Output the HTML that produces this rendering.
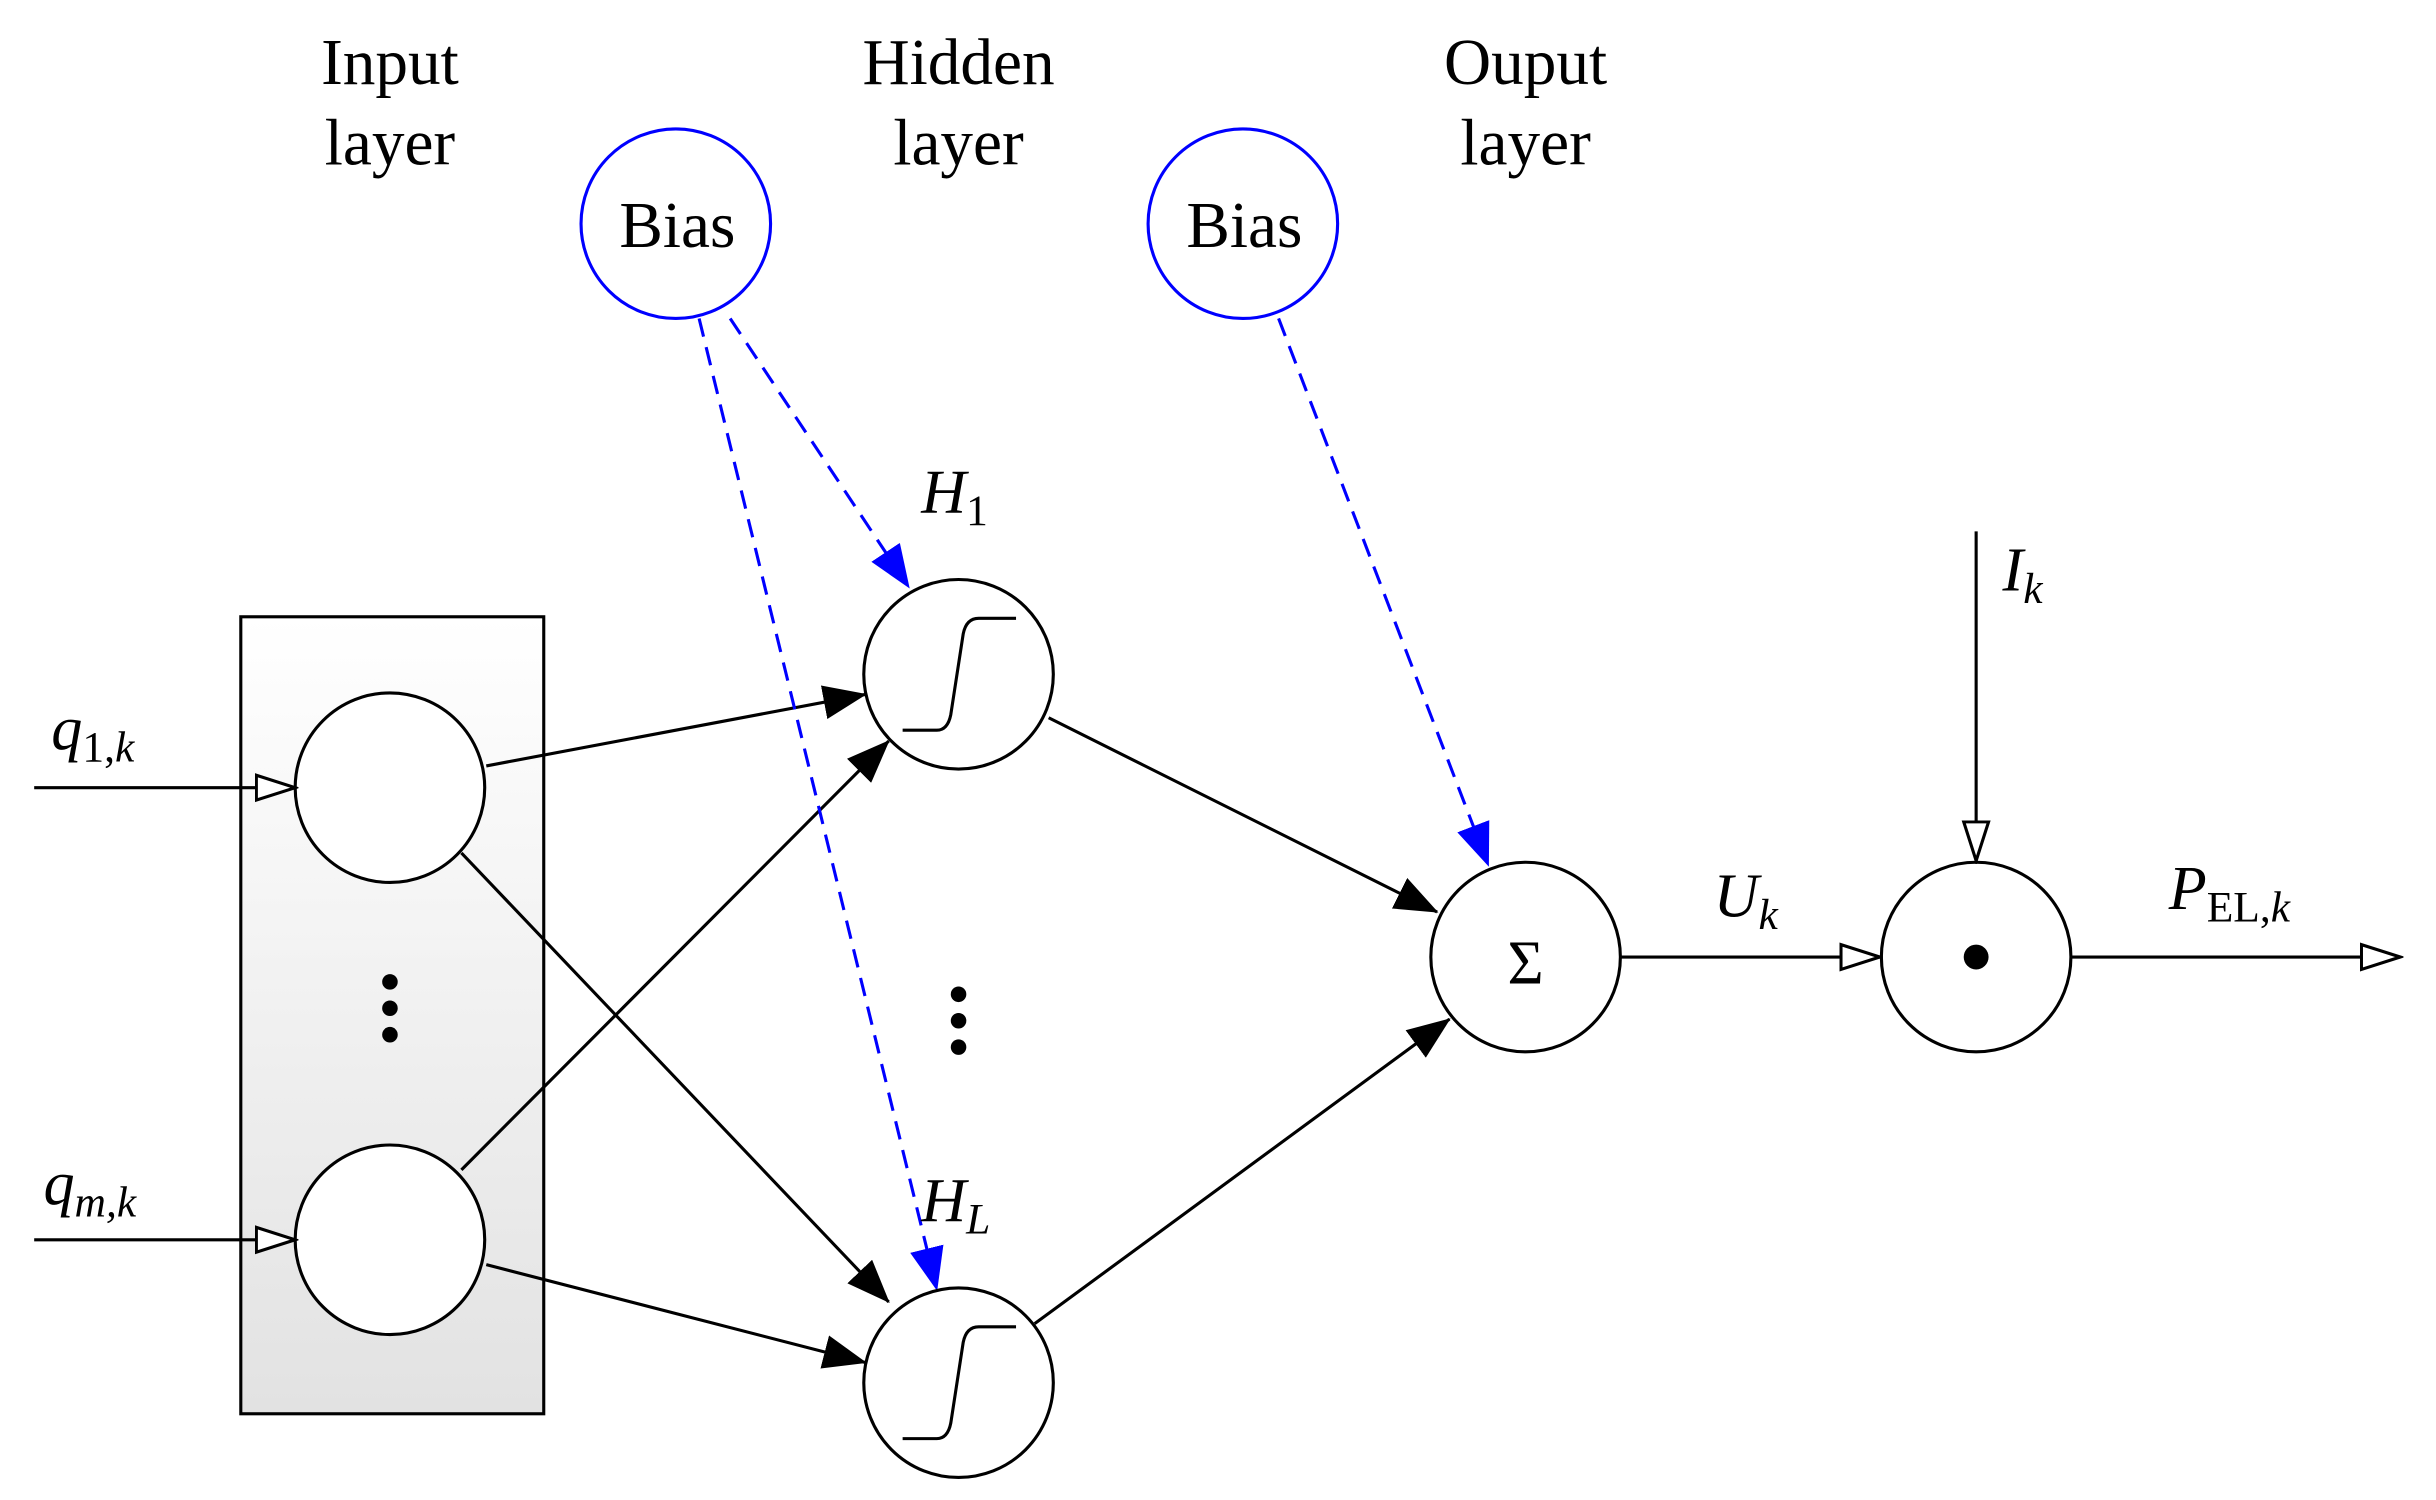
<!DOCTYPE html>
<html><head><meta charset="utf-8"><style>html,body{margin:0;padding:0;background:#fff}svg{display:block}</style></head>
<body>
<svg width="2436" height="1500" viewBox="0 0 1568 965.5" preserveAspectRatio="none" xmlns="http://www.w3.org/2000/svg" font-family="'Liberation Serif', serif">
<defs>
<linearGradient id="g" x1="0" y1="0" x2="0" y2="1"><stop offset="0" stop-color="#ffffff"/><stop offset="1" stop-color="#e2e2e2"/></linearGradient>
<marker id="fa" markerWidth="28" markerHeight="22" refX="27" refY="11" orient="auto" markerUnits="userSpaceOnUse" viewBox="0 0 28 22"><path d="M0,0 L28,11 L0,22 Z" fill="#000"/></marker>
<marker id="ba" markerWidth="28" markerHeight="22" refX="27" refY="11" orient="auto" markerUnits="userSpaceOnUse" viewBox="0 0 28 22"><path d="M0,0 L28,11 L0,22 Z" fill="#00f"/></marker>
<marker id="ha" markerWidth="28" markerHeight="20" refX="26" refY="10" orient="auto" markerUnits="userSpaceOnUse" viewBox="0 0 28 20"><path d="M1,2 L26,10 L1,18 Z" fill="#fff" stroke="#000" stroke-width="2"/></marker>
</defs>
<style>
.t{font-size:42px;text-anchor:middle}
.i{font-style:italic;font-size:40px}
.s{font-size:28px}
</style>
<rect x="155" y="397" width="195" height="513" fill="url(#g)" stroke="#000" stroke-width="2"/>
<text class="t" x="251" y="54">Input</text><text class="t" x="251" y="106">layer</text>
<text class="t" x="617" y="54">Hidden</text><text class="t" x="617" y="106">layer</text>
<text class="t" x="982" y="54">Ouput</text><text class="t" x="982" y="106">layer</text>
<circle cx="435" cy="144" r="61" fill="#fff" stroke="#00f" stroke-width="2"/>
<circle cx="800" cy="144" r="61" fill="#fff" stroke="#00f" stroke-width="2"/>
<text class="t" x="436" y="159">Bias</text><text class="t" x="801" y="159">Bias</text>
<g fill="#fff" stroke="#000" stroke-width="2">
<circle cx="251" cy="507" r="61"/><circle cx="251" cy="798" r="61"/>
</g>
<g stroke="#000" stroke-width="2" fill="none">
<line x1="22" y1="507" x2="190" y2="507" marker-end="url(#ha)"/>
<line x1="22" y1="798" x2="190" y2="798" marker-end="url(#ha)"/>
<line x1="313" y1="493" x2="557" y2="447" marker-end="url(#fa)"/>
<line x1="297" y1="549" x2="572" y2="838" marker-end="url(#fa)"/>
<line x1="297" y1="753" x2="572" y2="477" marker-end="url(#fa)"/>
<line x1="313" y1="814" x2="557" y2="877" marker-end="url(#fa)"/>
<line x1="675" y1="462" x2="925" y2="587" marker-end="url(#fa)"/>
<line x1="666" y1="852" x2="933" y2="656" marker-end="url(#fa)"/>
<line x1="1043" y1="616" x2="1210" y2="616" marker-end="url(#ha)"/>
<line x1="1333" y1="616" x2="1545" y2="616" marker-end="url(#ha)"/>
<line x1="1272" y1="342" x2="1272" y2="554" marker-end="url(#ha)"/>
</g>
<g stroke="#00f" stroke-width="2" stroke-dasharray="12,7" fill="none">
<line x1="470" y1="205" x2="585" y2="378" marker-end="url(#ba)"/>
<line x1="450" y1="205" x2="603" y2="830" marker-end="url(#ba)"/>
<line x1="823" y1="205" x2="958" y2="557" marker-end="url(#ba)"/>
</g>
<g fill="none" stroke="#000" stroke-width="2">
<circle cx="617" cy="434" r="61"/><circle cx="617" cy="890" r="61"/>
<circle cx="982" cy="616" r="61"/><circle cx="1272" cy="616" r="61"/>
<path d="M581,470 L603,470 Q610,470 612,460 L620,408 Q622,398 630,398 L654,398"/>
<path d="M581,926 L603,926 Q610,926 612,916 L620,864 Q622,854 630,854 L654,854"/>
</g>
<g fill="#000">
<circle cx="251" cy="632" r="5"/><circle cx="251" cy="649" r="5"/><circle cx="251" cy="666" r="5"/>
<circle cx="617" cy="640" r="5"/><circle cx="617" cy="657" r="5"/><circle cx="617" cy="674" r="5"/>
<circle cx="1272" cy="616" r="8"/>
</g>
<text x="982" y="633" font-size="40" text-anchor="middle">Σ</text>
<text x="33" y="482"><tspan class="i">q</tspan><tspan class="s" dy="8">1,</tspan><tspan class="s" font-style="italic">k</tspan></text>
<text x="28" y="775"><tspan class="i">q</tspan><tspan class="s" dy="8" font-style="italic">m,k</tspan></text>
<text x="593" y="330"><tspan class="i">H</tspan><tspan class="s" dy="8">1</tspan></text>
<text x="593" y="786"><tspan class="i">H</tspan><tspan class="s" dy="8" font-style="italic">L</tspan></text>
<text x="1103" y="590"><tspan class="i">U</tspan><tspan class="s" dy="8" font-style="italic">k</tspan></text>
<text x="1289" y="380"><tspan class="i">I</tspan><tspan class="s" dy="8" font-style="italic">k</tspan></text>
<text x="1396" y="585"><tspan class="i">P</tspan><tspan class="s" dy="8">EL,</tspan><tspan class="s" font-style="italic">k</tspan></text>
</svg>
</body></html>
